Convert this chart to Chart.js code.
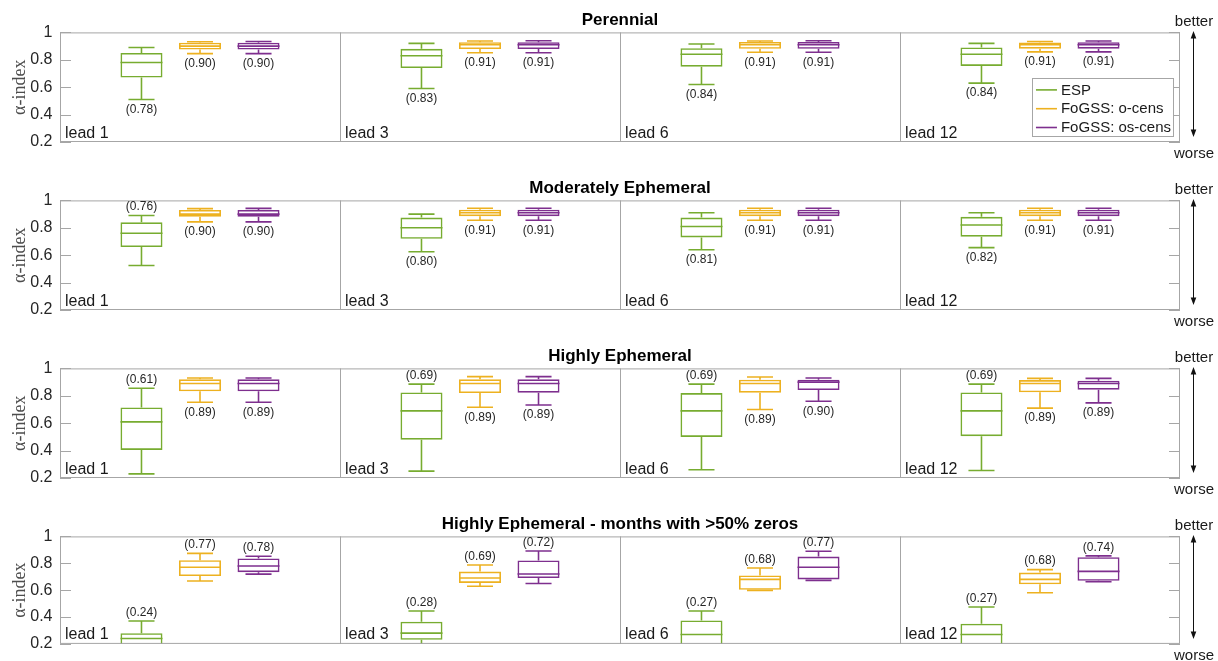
<!DOCTYPE html>
<html>
<head>
<meta charset="utf-8">
<script src="https://cdn.jsdelivr.net/npm/chart.js@4.4.1/dist/chart.umd.min.js"></script>
<style>
  html, body { margin: 0; padding: 0; background: #fff; }
  #wrap { position: relative; width: 1218px; height: 661px; overflow: hidden; }
  #wrap canvas { position: absolute; left: 0; }
</style>
</head>
<body>
<div id="wrap"></div>
<script>
// ---- data ----
const leads = ['lead 1', 'lead 3', 'lead 6', 'lead 12'];
const regimes = [
  'Perennial',
  'Moderately Ephemeral',
  'Highly Ephemeral',
  'Highly Ephemeral - months with >50% zeros'
];
const seriesNames = ['ESP', 'FoGSS: o-cens', 'FoGSS: os-cens'];
const yTickValues = [0.2, 0.4, 0.6, 0.8, 1];
const yTickLabels = ['0.2', '0.4', '0.6', '0.8', '1'];

// five-number summaries [lower whisker, q1, median, q3, upper whisker], by regime then lead
const espStats = [
  [[0.51, 0.67, 0.78, 0.85, 0.89], [0.59, 0.74, 0.83, 0.88, 0.92], [0.62, 0.75, 0.84, 0.885, 0.915], [0.63, 0.755, 0.84, 0.89, 0.92]],
  [[0.525, 0.66, 0.76, 0.84, 0.89], [0.625, 0.72, 0.80, 0.875, 0.90], [0.64, 0.73, 0.81, 0.875, 0.91], [0.655, 0.735, 0.82, 0.88, 0.91]],
  [[0.23, 0.405, 0.61, 0.715, 0.855], [0.25, 0.48, 0.69, 0.825, 0.885], [0.26, 0.50, 0.69, 0.82, 0.885], [0.255, 0.505, 0.69, 0.825, 0.885]],
  [[0.10, 0.16, 0.24, 0.28, 0.37], [0.12, 0.23, 0.28, 0.365, 0.445], [0.08, 0.15, 0.27, 0.375, 0.445], [0.08, 0.15, 0.27, 0.35, 0.475]]
];
const oCensStats = [
  [[0.845, 0.875, 0.90, 0.925, 0.932], [0.852, 0.878, 0.91, 0.928, 0.937], [0.855, 0.88, 0.91, 0.93, 0.937], [0.858, 0.881, 0.91, 0.927, 0.934]],
  [[0.843, 0.881, 0.90, 0.93, 0.94], [0.855, 0.885, 0.91, 0.932, 0.943], [0.855, 0.885, 0.91, 0.932, 0.943], [0.855, 0.885, 0.91, 0.932, 0.943]],
  [[0.753, 0.833, 0.89, 0.92, 0.93], [0.716, 0.82, 0.89, 0.92, 0.94], [0.70, 0.823, 0.89, 0.918, 0.937], [0.71, 0.826, 0.89, 0.915, 0.927]],
  [[0.668, 0.705, 0.77, 0.823, 0.874], [0.629, 0.654, 0.69, 0.738, 0.787], [0.598, 0.603, 0.68, 0.709, 0.765], [0.581, 0.644, 0.68, 0.731, 0.753]]
];
const osCensStats = [
  [[0.845, 0.875, 0.90, 0.925, 0.934], [0.852, 0.878, 0.91, 0.928, 0.939], [0.855, 0.88, 0.91, 0.93, 0.939], [0.858, 0.881, 0.91, 0.928, 0.937]],
  [[0.843, 0.881, 0.90, 0.93, 0.942], [0.855, 0.885, 0.91, 0.932, 0.943], [0.855, 0.885, 0.91, 0.932, 0.943], [0.855, 0.885, 0.91, 0.932, 0.943]],
  [[0.753, 0.833, 0.89, 0.92, 0.93], [0.733, 0.823, 0.89, 0.92, 0.94], [0.76, 0.842, 0.90, 0.918, 0.93], [0.748, 0.845, 0.89, 0.91, 0.927]],
  [[0.719, 0.734, 0.78, 0.836, 0.852], [0.649, 0.69, 0.72, 0.821, 0.891], [0.673, 0.68, 0.77, 0.85, 0.889], [0.663, 0.67, 0.74, 0.845, 0.855]]
];
// median label placed above the upper whisker (1) or below the lower whisker (0)
const espLabelAbove = [[0, 0, 0, 0], [1, 0, 0, 0], [1, 1, 1, 1], [1, 1, 1, 1]];
const fogssLabelAbove = [[0, 0, 0, 0], [0, 0, 0, 0], [0, 0, 0, 0], [1, 1, 1, 1]];

// ---- styling ----
const seriesColors = ['#77AC30', '#EDB120', '#7E2F8E'];
const axisGray = '#a6a6a6';
const SANS = '"Liberation Sans", Arial, Helvetica, sans-serif';
const SERIF = '"Liberation Serif", "Times New Roman", serif';

const boxParts = {
  id: 'boxParts',
  afterDatasetsDraw(chart, args, opts) {
    const { ctx, chartArea: a, scales: { x, y } } = chart;
    const py = v => y.getPixelForValue(v);

    // whiskers, caps and medians, clipped to the plot area
    ctx.save();
    ctx.beginPath();
    ctx.rect(a.left, a.top, a.right - a.left, a.bottom - a.top);
    ctx.clip();
    chart.data.datasets.forEach((ds, s) => {
      chart.getDatasetMeta(s).data.forEach((bar, j) => {
        const st = ds.stats[j];
        const cx = bar.x, w = bar.width, cap = w * 0.62;
        ctx.strokeStyle = ds.borderColor;
        ctx.lineWidth = 1.6;
        ctx.beginPath();
        ctx.moveTo(cx, py(st[3])); ctx.lineTo(cx, py(st[4]));
        ctx.moveTo(cx, py(st[1])); ctx.lineTo(cx, py(st[0]));
        ctx.moveTo(cx - cap / 2, py(st[4])); ctx.lineTo(cx + cap / 2, py(st[4]));
        ctx.moveTo(cx - cap / 2, py(st[0])); ctx.lineTo(cx + cap / 2, py(st[0]));
        ctx.moveTo(cx - w / 2, py(st[2])); ctx.lineTo(cx + w / 2, py(st[2]));
        ctx.stroke();
      });
    });
    ctx.restore();

    ctx.save();
    // frame and lead separators
    ctx.strokeStyle = axisGray;
    ctx.lineWidth = 1;
    ctx.strokeRect(a.left + 0.5, a.top + 0.5, a.right - a.left - 1, a.bottom - a.top - 1);
    const half = (x.getPixelForValue(1) - x.getPixelForValue(0)) / 2;
    ctx.beginPath();
    for (let j = 1; j < leads.length; j++) {
      const xx = Math.round(x.getPixelForValue(j) - half) + 0.5;
      ctx.moveTo(xx, a.top); ctx.lineTo(xx, a.bottom);
    }
    // inward tick marks on both sides
    y.ticks.forEach(t => {
      const yy = Math.round(py(t.value)) + 0.5;
      ctx.moveTo(a.left, yy); ctx.lineTo(a.left + 11, yy);
      ctx.moveTo(a.right - 11, yy); ctx.lineTo(a.right, yy);
    });
    ctx.stroke();

    // median value labels
    ctx.font = '12px ' + SANS;
    ctx.fillStyle = '#262626';
    ctx.textAlign = 'center';
    chart.data.datasets.forEach((ds, s) => {
      chart.getDatasetMeta(s).data.forEach((bar, j) => {
        const st = ds.stats[j];
        const txt = '(' + st[2].toFixed(2) + ')';
        if (ds.labelAbove[j]) {
          ctx.textBaseline = 'bottom';
          ctx.fillText(txt, bar.x, py(st[4]) - 2.5);
        } else {
          ctx.textBaseline = 'top';
          ctx.fillText(txt, bar.x, py(st[0]) + 4);
        }
      });
    });

    // lead names in the lower-left corner of each panel
    ctx.font = '16px ' + SANS;
    ctx.fillStyle = '#1a1a1a';
    ctx.textAlign = 'left';
    ctx.textBaseline = 'alphabetic';
    chart.data.labels.forEach((lab, j) => {
      ctx.fillText(lab, x.getPixelForValue(j) - half + 5, a.bottom - 4.5);
    });

    // better / worse direction arrow
    const ax = a.right + 13.5;
    ctx.strokeStyle = '#111';
    ctx.fillStyle = '#111';
    ctx.lineWidth = 1;
    ctx.beginPath();
    ctx.moveTo(ax, a.top + 3); ctx.lineTo(ax, a.bottom - 8);
    ctx.stroke();
    ctx.beginPath();
    ctx.moveTo(ax, a.top - 1.5); ctx.lineTo(ax - 2.8, a.top + 6); ctx.lineTo(ax + 2.8, a.top + 6); ctx.closePath();
    ctx.moveTo(ax, a.bottom - 5); ctx.lineTo(ax - 2.8, a.bottom - 12.5); ctx.lineTo(ax + 2.8, a.bottom - 12.5); ctx.closePath();
    ctx.fill();
    ctx.font = '15px ' + SANS;
    ctx.fillStyle = '#1a1a1a';
    ctx.textAlign = 'center';
    ctx.textBaseline = 'middle';
    ctx.fillText('better', ax + 0.5, a.top - 11);
    ctx.fillText('worse', ax + 0.5, a.bottom + 12);

    // legend inside the last panel of the first row
    if (opts.legend) {
      ctx.font = '15px ' + SANS;
      const names = chart.data.datasets.map(d => d.label);
      const tw = Math.max(...names.map(n => ctx.measureText(n).width));
      const bw = 29 + tw + 2, bh = 58;
      const bx = a.right - 7 - bw, by = a.top + 46;
      ctx.fillStyle = '#fff';
      ctx.fillRect(bx, by, bw, bh);
      ctx.strokeStyle = axisGray;
      ctx.strokeRect(Math.round(bx) + 0.5, Math.round(by) + 0.5, Math.round(bw), bh);
      ctx.textAlign = 'left';
      ctx.textBaseline = 'middle';
      chart.data.datasets.forEach((d, k) => {
        const ly = by + 11.5 + k * 18.8;
        ctx.strokeStyle = d.borderColor;
        ctx.lineWidth = 1.6;
        ctx.beginPath();
        ctx.moveTo(bx + 4, ly); ctx.lineTo(bx + 25, ly);
        ctx.stroke();
        ctx.fillStyle = '#1a1a1a';
        ctx.fillText(d.label, bx + 29, ly + 0.5);
      });
    }
    ctx.restore();
  }
};

const allStats = [espStats, oCensStats, osCensStats];
const wrap = document.getElementById('wrap');

regimes.forEach((title, r) => {
  const h = r < regimes.length - 1 ? 168 : 157;
  const canvas = document.createElement('canvas');
  canvas.width = 1218;
  canvas.height = h;
  canvas.style.top = (168 * r) + 'px';
  wrap.appendChild(canvas);

  const datasets = seriesNames.map((name, s) => ({
    label: name,
    data: leads.map((_, j) => [allStats[s][r][j][1], allStats[s][r][j][3]]),
    stats: allStats[s][r],
    labelAbove: s === 0 ? espLabelAbove[r] : fogssLabelAbove[r],
    backgroundColor: 'rgba(255,255,255,0)',
    borderColor: seriesColors[s],
    borderWidth: 1.6,
    borderSkipped: false,
    categoryPercentage: 0.627,
    barPercentage: 0.718
  }));

  new Chart(canvas, {
    type: 'bar',
    data: { labels: leads, datasets },
    options: {
      responsive: false,
      animation: false,
      events: [],
      layout: { padding: { left: 0, right: 38, top: 0, bottom: h - 142 } },
      plugins: {
        legend: { display: false },
        tooltip: { enabled: false },
        title: {
          display: true,
          text: title,
          fullSize: false,
          color: '#000',
          font: { family: SANS, size: 17, weight: 'bold' },
          padding: { top: 10, bottom: 2 }
        },
        boxParts: { legend: r === 0 }
      },
      scales: {
        x: { display: false },
        y: {
          min: 0.2,
          max: 1,
          afterBuildTicks: scale => { scale.ticks = yTickValues.map(v => ({ value: v })); },
          afterFit: scale => { scale.width = 60; },
          ticks: {
            callback: (v, i) => yTickLabels[i],
            color: '#262626',
            font: { family: SANS, size: 16 },
            padding: 7.5,
            autoSkip: false
          },
          grid: { display: false, drawTicks: false },
          border: { display: false },
          title: {
            display: true,
            text: 'α-index',
            color: '#4d4d4d',
            font: { family: SERIF, size: 18 },
            padding: { top: 9, bottom: 0 }
          }
        }
      }
    },
    plugins: [boxParts]
  });
});
</script>
</body>
</html>
